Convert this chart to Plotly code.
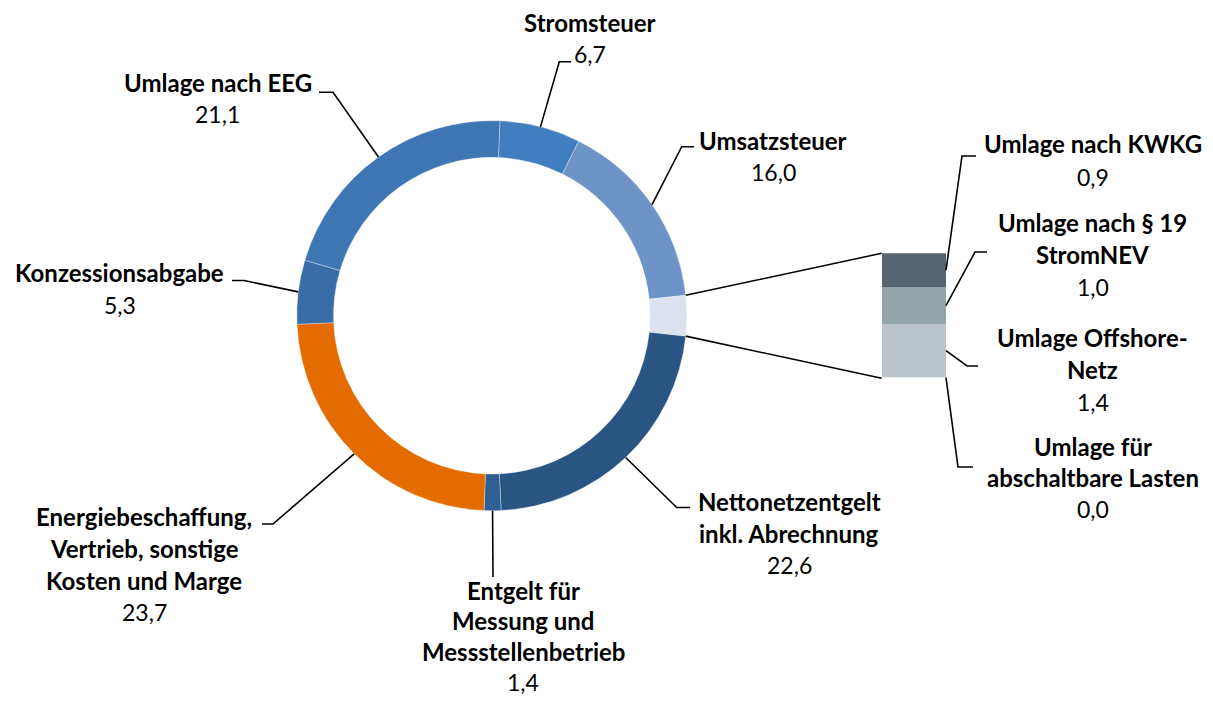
import math
import plotly.graph_objects as go

# ---------------- data ----------------
pie_labels = [
    "Stromsteuer",
    "Umsatzsteuer",
    "Umlagen",
    "Nettonetzentgelt inkl. Abrechnung",
    "Entgelt für Messung und Messstellenbetrieb",
    "Energiebeschaffung, Vertrieb, sonstige Kosten und Marge",
    "Konzessionsabgabe",
    "Umlage nach EEG",
]
stromsteuer = 6.7
umsatzsteuer = 16.0
nettonetzentgelt = 22.6
messung = 1.4
energiebeschaffung = 23.7
konzessionsabgabe = 5.3
umlage_eeg = 21.1

umlage_names = [
    "Umlage nach KWKG",
    "Umlage nach § 19 StromNEV",
    "Umlage Offshore-Netz",
    "Umlage für abschaltbare Lasten",
]
umlage_values = [0.9, 1.0, 1.4, 0.04]
umlage_total = sum(umlage_values)

pie_values = [stromsteuer, umsatzsteuer, umlage_total, nettonetzentgelt,
              messung, energiebeschaffung, konzessionsabgabe, umlage_eeg]

pie_colors = ["#417ebf", "#6e94c7", "#dce2ef", "#2a5583",
              "#2f5f95", "#e36b00", "#396da8", "#3e77b4"]
umlage_colors = ["#56656f", "#95a3ab", "#bbc4ca", "#e3e8eb"]

pie_text_lines = [
    ["Stromsteuer"],
    ["Umsatzsteuer"],
    None,
    ["Nettonetzentgelt", "inkl. Abrechnung"],
    ["Entgelt für", "Messung und", "Messstellenbetrieb"],
    ["Energiebeschaffung,", "Vertrieb, sonstige", "Kosten und Marge"],
    ["Konzessionsabgabe"],
    ["Umlage nach EEG"],
]
umlage_text_lines = [
    ["Umlage nach KWKG"],
    ["Umlage nach § 19", "StromNEV"],
    ["Umlage Offshore-", "Netz"],
    ["Umlage für", "abschaltbare Lasten"],
]

# ---------------- layout geometry (page pixels) ----------------
PAGE_W, PAGE_H = 1213, 703
OFF = 8                      # default page margin around the figure
W, H = PAGE_W - 2 * OFF, PAGE_H - 2 * OFF
CX, CY, R = 491.8, 315.7, 195.0
HOLE = 0.812
ROT = 2.4
BAR_X0, BAR_X1 = 881.7, 946.0
BAR_TOP, BAR_BOT = 253.3, 378.3

# (center x, first line center y, line step, elbow point, end point)
pie_label_pos = [
    (589.5, 22, 32, (559.3, 61.7), (571, 61.7)),
    (773, 140, 32, (681.7, 146.7), (694, 146.7)),
    None,
    (789, 501, 32, (676.7, 507.5), (690, 507.5)),
    (523, 590, 30.5, (493.0, 577), (493.0, 577)),
    (144, 516, 32, (273, 524), (262, 524)),
    (119.7, 272.5, 32, (244, 280.5), (232, 280.5)),
    (217.5, 82.5, 32, (333, 92.3), (319, 92.3)),
]
umlage_label_pos = [
    (1093, 144, 33, (962, 156), (976, 156)),
    (1092.5, 222.5, 32, (975, 252), (987, 252)),
    (1092.5, 337.5, 32, (967, 366), (978, 366)),
    (1092.5, 446.7, 31, (958, 467), (973, 467)),
]

FONT = "Lato"
LABEL_SIZE = 24
VALUE_SIZE = 23


def px(x):
    return (x - OFF) / W


def py(y):
    return 1 - (y - OFF) / H


def fmt(v):
    return f"{v:.1f}".replace(".", ",")


total = sum(pie_values)


def ring_point(angle_deg, r=R):
    a = math.radians(angle_deg)
    return CX + r * math.sin(a), CY - r * math.cos(a)


starts, ends = [], []
acc = 0.0
for v in pie_values:
    starts.append(ROT + acc / total * 360)
    acc += v
    ends.append(ROT + acc / total * 360)
mids = [(s + e) / 2 for s, e in zip(starts, ends)]

fig = go.Figure()

fig.add_trace(go.Pie(
    labels=pie_labels,
    values=pie_values,
    hole=HOLE,
    sort=False,
    direction="clockwise",
    rotation=ROT,
    textinfo="none",
    hoverinfo="label+value",
    marker=dict(colors=pie_colors, line=dict(color="rgba(255,255,255,0.55)", width=0.6)),
    domain=dict(x=[px(CX - R), px(CX + R)], y=[py(CY + R), py(CY - R)]),
    showlegend=False,
))

for name, val, col in reversed(list(zip(umlage_names, umlage_values, umlage_colors))):
    fig.add_trace(go.Bar(
        x=[0], y=[val], width=[1], name=name,
        marker=dict(color=col, line=dict(width=0)),
        xaxis="x", yaxis="y", showlegend=False,
        hoverinfo="name+y",
    ))


def bar_y_pix(v):
    return BAR_BOT - v / umlage_total * (BAR_BOT - BAR_TOP)


shapes = []


def add_path(points):
    d = "M " + " L ".join(f"{px(x):.6f},{py(y):.6f}" for x, y in points)
    shapes.append(dict(type="path", path=d, xref="paper", yref="paper",
                       line=dict(color="black", width=1.6)))


annotations = []


def add_label(cx, y0, step, lines, value):
    y = y0
    for ln in lines:
        annotations.append(dict(
            x=px(cx), y=py(y), xref="paper", yref="paper", text=ln,
            showarrow=False, xanchor="center", yanchor="middle",
            font=dict(family=FONT, size=LABEL_SIZE, color="black", weight="bold"),
        ))
        y += step
    annotations.append(dict(
        x=px(cx), y=py(y), xref="paper", yref="paper", text=fmt(value),
        showarrow=False, xanchor="center", yanchor="middle",
        font=dict(family=FONT, size=VALUE_SIZE, color="black"),
    ))


for i, lines in enumerate(pie_text_lines):
    if lines is None:
        continue
    cx, y0, step, elbow, end = pie_label_pos[i]
    anchor = ring_point(mids[i])
    pts = [anchor, elbow]
    if end != elbow:
        pts.append(end)
    add_path(pts)
    add_label(cx, y0, step, lines, pie_values[i])

gi = 2
add_path([ring_point(starts[gi]), (BAR_X0, bar_y_pix(umlage_total))])
add_path([ring_point(ends[gi]), (BAR_X0, bar_y_pix(0))])

cum_top = umlage_total
for i, (val, lines) in enumerate(zip(umlage_values, umlage_text_lines)):
    mid_v = cum_top - val / 2
    cum_top -= val
    cx, y0, step, elbow, end = umlage_label_pos[i]
    add_path([(BAR_X1, bar_y_pix(mid_v)), elbow, end])
    add_label(cx, y0, step, lines, val)

fig.update_layout(
    width=W, height=H,
    margin=dict(l=0, r=0, t=0, b=0),
    paper_bgcolor="white",
    plot_bgcolor="rgba(0,0,0,0)",
    barmode="stack",
    bargap=0,
    xaxis=dict(domain=[px(BAR_X0), px(BAR_X1)], range=[-0.5, 0.5], visible=False, fixedrange=True),
    yaxis=dict(domain=[py(BAR_BOT), py(BAR_TOP)], range=[0, umlage_total], visible=False, fixedrange=True),
    shapes=shapes,
    annotations=annotations,
    showlegend=False,
)

fig.write_html("out.html")
